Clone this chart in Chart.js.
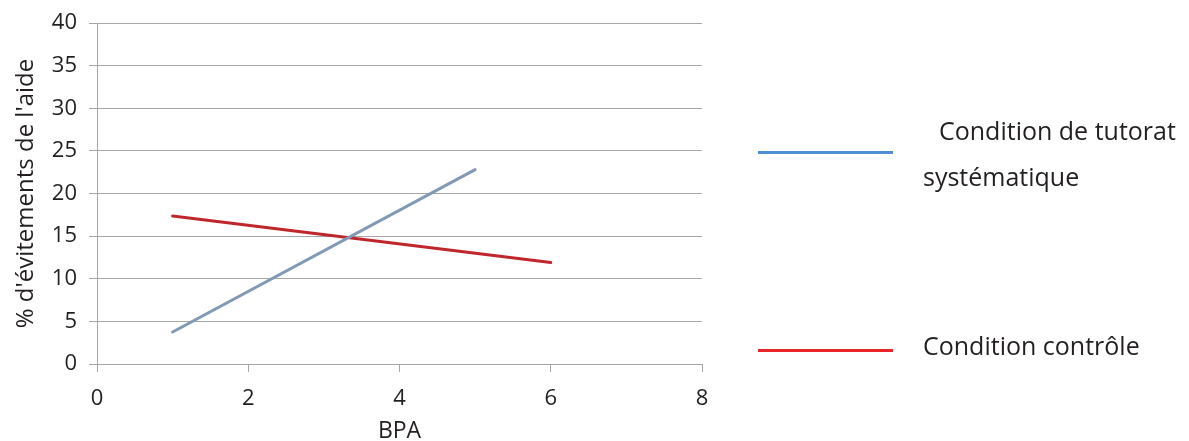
<!DOCTYPE html>
<html>
<head>
<meta charset="utf-8">
<script src="https://cdn.jsdelivr.net/npm/chart.js@4.4.0/dist/chart.umd.min.js"></script>
<style>
  body { margin: 0; background: #fff; }
  #wrap { position: relative; width: 1189px; height: 441px; }
  .leg-line { position: absolute; height: 3px; }
  .leg-text { position: absolute; font-family: "Open Sans", sans-serif; font-size: 25px; color: #231f20; white-space: nowrap; line-height: 1; }
</style>
</head>
<body>
<div id="wrap">
  <canvas id="chart" width="1189" height="441"></canvas>
  <div class="leg-line" style="left:758px; top:151px; width:135px; background:#4f8ed3;"></div>
  <div class="leg-text" style="left:939px; top:118px;">Condition de tutorat</div>
  <div class="leg-text" style="left:923px; top:164px;">systématique</div>
  <div class="leg-line" style="left:758px; top:349px; width:135px; background:#e8262a;"></div>
  <div class="leg-text" style="left:923px; top:333px;">Condition contrôle</div>
</div>
<script>
// donnees
const tutoratX = [1, 5]
const tutoratY = [3.75, 22.8]
const controleX = [1, 6]
const controleY = [17.35, 11.9]
const xTicks = [0, 2, 4, 6, 8]
const yTicks = [0, 5, 10, 15, 20, 25, 30, 35, 40]

function toPoints(xs, ys) {
    return xs.map((x, i) => ({ x: x, y: ys[i] }))
}

const font = { family: '"Open Sans", sans-serif', size: 22, lineHeight: 1 }
const gridColor = '#a6a6a6'

let ctx = document.getElementById('chart').getContext('2d')
new Chart(ctx, {
    type: 'scatter',
    data: {
        datasets: [{
            label: 'Condition de tutorat systématique',
            data: toPoints(tutoratX, tutoratY),
            showLine: true,
            borderColor: '#8199b6',
            borderWidth: 3,
            pointRadius: 0,
            borderCapStyle: 'round'
        }, {
            label: 'Condition contrôle',
            data: toPoints(controleX, controleY),
            showLine: true,
            borderColor: '#c0272d',
            borderWidth: 3,
            pointRadius: 0,
            borderCapStyle: 'round'
        }]
    },
    options: {
        responsive: false,
        animation: false,
        layout: { padding: { left: 0, right: 487, top: 18, bottom: 0 } },
        plugins: { legend: { display: false }, tooltip: { enabled: false } },
        scales: {
            x: {
                type: 'linear',
                min: 0, max: 8,
                afterBuildTicks: s => { s.ticks = xTicks.map(v => ({ value: v })) },
                afterFit: s => { s.height = 77 },
                grid: { drawOnChartArea: false, drawTicks: true, tickLength: 8, color: gridColor },
                border: { color: gridColor },
                ticks: { font: font, color: '#231f20', padding: 16 },
                title: { display: true, text: 'BPA', font: { family: font.family, size: 23, lineHeight: 0.8 }, color: '#231f20', padding: { top: 0, bottom: 0 } }
            },
            y: {
                min: 0, max: 40,
                afterBuildTicks: s => { s.ticks = yTicks.map(v => ({ value: v })) },
                afterFit: s => { s.width = 97 },
                grid: { color: gridColor, tickLength: 8 },
                border: { color: gridColor },
                ticks: { font: font, color: '#231f20', padding: 12 },
                title: { display: true, text: "% d'évitements de l'aide", font: { family: font.family, size: 24 }, color: '#231f20', padding: { top: 12, bottom: 0 } }
            }
        }
    }
})
</script>
</body>
</html>
